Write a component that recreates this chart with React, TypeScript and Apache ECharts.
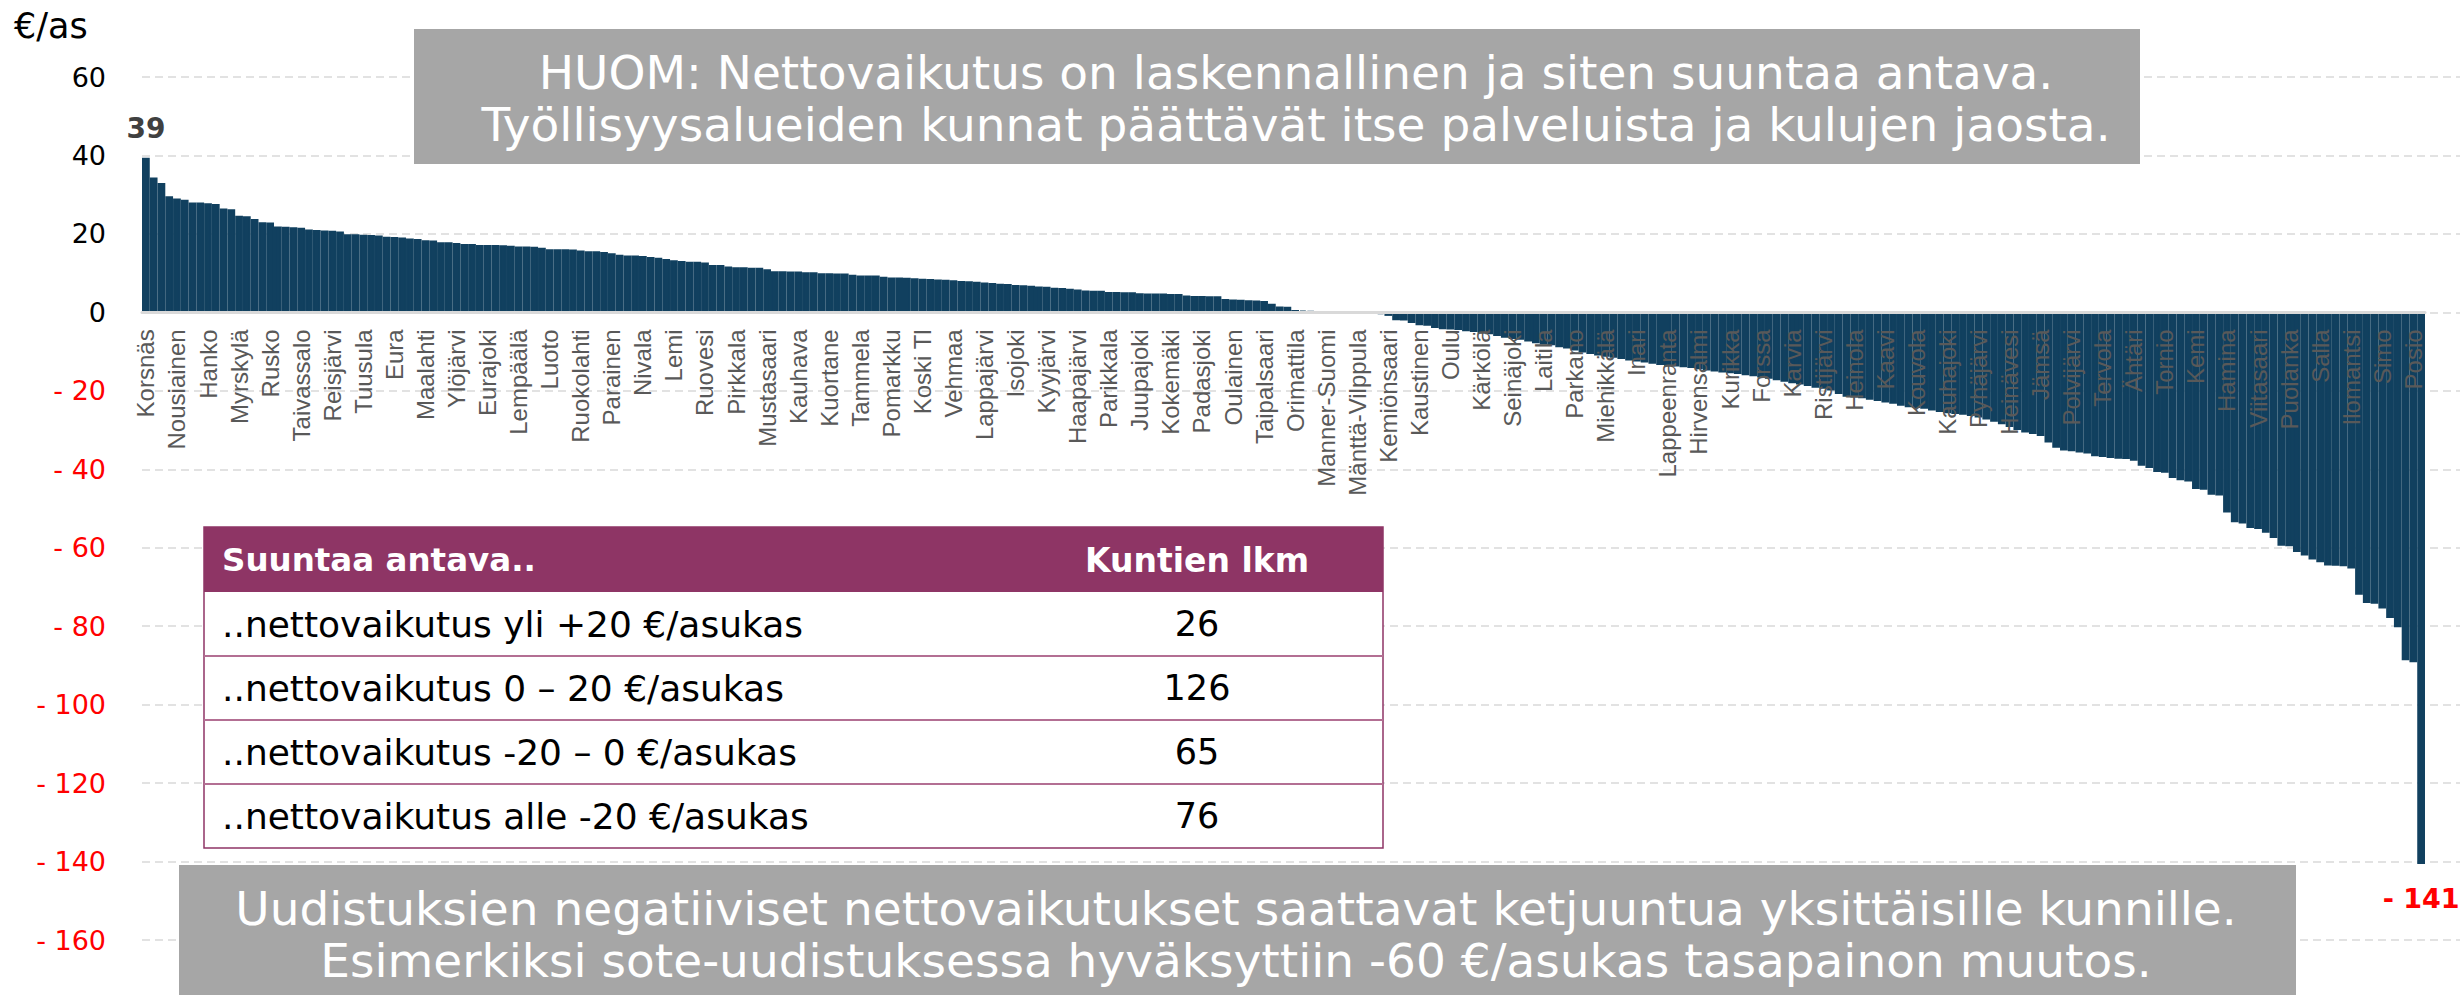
import React, { useEffect, useRef } from "react";
import * as echarts from "echarts";

// Net effect per municipality, €/resident, sorted descending (Manner-Suomi ~0 at index 152)
const values: number[] = [
  39.4, 34.4, 33.0, 29.6, 29.0, 28.7, 28.0, 28.0, 27.8, 27.6,
  26.5, 26.3, 24.6, 24.5, 23.8, 23.0, 22.9, 21.9, 21.8, 21.7,
  21.6, 21.1, 21.0, 20.9, 20.8, 20.6, 19.9, 19.9, 19.8, 19.7,
  19.6, 19.3, 19.2, 19.1, 18.8, 18.7, 18.4, 18.3, 17.9, 17.9,
  17.7, 17.4, 17.4, 17.2, 17.2, 17.2, 17.1, 17.0, 16.8, 16.8,
  16.7, 16.5, 16.1, 16.1, 16.1, 16.0, 15.8, 15.6, 15.6, 15.4,
  15.1, 14.7, 14.5, 14.5, 14.4, 14.1, 13.9, 13.6, 13.3, 13.1,
  12.9, 12.9, 12.7, 12.1, 12.1, 11.7, 11.5, 11.5, 11.4, 11.4,
  11.0, 10.5, 10.5, 10.4, 10.4, 10.2, 10.2, 10.0, 10.0, 9.9,
  9.9, 9.6, 9.4, 9.4, 9.4, 9.1, 8.9, 8.9, 8.8, 8.7,
  8.6, 8.5, 8.4, 8.3, 8.2, 8.0, 7.9, 7.8, 7.6, 7.5,
  7.3, 7.2, 7.0, 6.9, 6.8, 6.6, 6.5, 6.3, 6.2, 6.0,
  5.8, 5.6, 5.5, 5.5, 5.2, 5.2, 5.1, 5.1, 4.9, 4.8,
  4.8, 4.8, 4.7, 4.7, 4.3, 4.2, 4.2, 4.1, 4.1, 3.4,
  3.3, 3.2, 3.1, 3.0, 2.9, 2.2, 1.5, 1.4, 0.6, 0.5,
  0.3, 0.1, 0, -0.1, -0.1, -0.2, -0.2, -0.3, -0.3, -0.5,
  -0.9, -2.0, -2.1, -2.7, -3.3, -3.4, -4.0, -4.3, -4.4, -4.5,
  -4.8, -5.0, -5.4, -5.6, -6.0, -6.5, -6.8, -7.0, -7.4, -7.9,
  -8.2, -8.4, -8.9, -9.2, -9.7, -10.2, -10.6, -11.0, -11.3, -11.6,
  -11.9, -12.3, -12.5, -12.8, -13.1, -13.4, -13.6, -13.8, -14.0, -14.2,
  -14.5, -14.8, -15.1, -15.3, -15.5, -15.7, -16.0, -16.3, -16.6, -16.9,
  -17.3, -17.7, -18.1, -18.4, -18.8, -19.2, -19.5, -19.9, -20.8, -21.5,
  -21.7, -21.9, -22.3, -22.6, -23.0, -23.3, -23.8, -24.2, -24.4, -24.6,
  -25.0, -25.4, -25.7, -25.9, -26.1, -26.4, -26.8, -27.3, -27.9, -28.5,
  -29.2, -30.0, -30.6, -31.0, -31.5, -33.2, -34.5, -35.2, -35.4, -35.7,
  -36.0, -36.7, -36.9, -37.1, -37.3, -37.4, -37.8, -39.1, -39.7, -40.7,
  -40.9, -42.2, -42.8, -43.1, -45.0, -45.2, -46.5, -46.7, -51.0, -53.5,
  -53.8, -55.0, -55.2, -56.2, -57.5, -59.5, -59.6, -61.1, -62.0, -63.0,
  -63.7, -64.5, -64.6, -64.7, -65.3, -72.0, -74.1, -74.3, -75.5, -77.9,
  -80.3, -88.7, -89.2, -140.6,
];

// Names shown on the axis (every 4th municipality)
const labelNames: string[] = [
  "Korsnäs", "Nousiainen", "Hanko", "Myrskylä", "Rusko", "Taivassalo", "Reisjärvi", "Tuusula",
  "Eura", "Maalahti", "Ylöjärvi", "Eurajoki", "Lempäälä", "Luoto", "Ruokolahti", "Parainen",
  "Nivala", "Lemi", "Ruovesi", "Pirkkala", "Mustasaari", "Kauhava", "Kuortane", "Tammela",
  "Pomarkku", "Koski Tl", "Vehmaa", "Lappajärvi", "Isojoki", "Kyyjärvi", "Haapajärvi", "Parikkala",
  "Juupajoki", "Kokemäki", "Padasjoki", "Oulainen", "Taipalsaari", "Orimattila", "Manner-Suomi",
  "Mänttä-Vilppula", "Kemiönsaari", "Kaustinen", "Oulu", "Kärkölä", "Seinäjoki", "Laitila",
  "Parkano", "Miehikkälä", "Inari", "Lappeenranta", "Hirvensalmi", "Kurikka", "Forssa", "Karvia",
  "Ristijärvi", "Heinola", "Kaavi", "Kouvola", "Kauhajoki", "Pyhäjärvi", "Heinävesi", "Jämsä",
  "Polvijärvi", "Tervola", "Ähtäri", "Tornio", "Kemi", "Hamina", "Viitasaari", "Puolanka",
  "Salla", "Ilomantsi", "Simo", "Posio",
];
const labelEvery = 4;

const yMin = -160;
const yMax = 60;
const yStep = 20;
const yUnit = "€/as";

const tableHeader: string[] = ["Suuntaa antava..", "Kuntien lkm"];
const tableRows: string[] = [
  "..nettovaikutus yli +20 €/asukas",
  "..nettovaikutus 0 – 20 €/asukas",
  "..nettovaikutus -20 – 0 €/asukas",
  "..nettovaikutus alle -20 €/asukas",
];
const tableCounts: number[] = [26, 126, 65, 76];

const noteTop: string[] = [
  "HUOM: Nettovaikutus on laskennallinen ja siten suuntaa antava.",
  "Työllisyysalueiden kunnat päättävät itse palveluista ja kulujen jaosta.",
];
const noteBottom: string[] = [
  "Uudistuksien negatiiviset nettovaikutukset saattavat ketjuuntua yksittäisille kunnille.",
  "Esimerkiksi sote-uudistuksessa hyväksyttiin -60 €/asukas tasapainon muutos.",
];

const FONT = "DejaVu Sans";
const BAR = "#11405f";
const PURPLE = "#8e3565";

// layout (pixels)
const GRID_TOP = 77;
const GRID_BOTTOM = 55;
const CHART_H = 995;

function fmtSigned(v: number): string {
  return v < 0 ? "- " + Math.abs(v) : String(v);
}

export default function App() {
  const ref = useRef<HTMLDivElement>(null);

  useEffect(() => {
    if (!ref.current) return;
    const chart = echarts.init(ref.current, undefined, { renderer: "svg" });

    const categories = values.map((_, i) => String(i));
    let maxI = 0;
    let minI = 0;
    values.forEach((v, i) => {
      if (v > values[maxI]) maxI = i;
      if (v < values[minI]) minI = i;
    });

    const data = values.map((v, i) => {
      if (i === maxI) {
        return {
          value: v,
          label: {
            show: true,
            position: "top",
            distance: 15,
            formatter: () => String(Math.round(v)),
            fontFamily: FONT,
            fontWeight: "bold",
            fontSize: 28,
            color: "#404040",
          },
        };
      }
      if (i === minI) {
        return {
          value: v,
          label: {
            show: true,
            position: "bottom",
            distance: 21,
            formatter: () => "- " + Math.round(Math.abs(v)),
            fontFamily: FONT,
            fontWeight: "bold",
            fontSize: 27,
            color: "#ff0000",
          },
        };
      }
      return v;
    });

    // place the category axis at value 0 (offset from the grid's bottom edge)
    const plotH = CHART_H - GRID_TOP - GRID_BOTTOM;
    const zeroOffset = -plotH * ((0 - yMin) / (yMax - yMin));

    const rowTop = 592;
    const rowH = 64;
    const tableX = 204;
    const tableW = 1179;

    const graphic: any[] = [
      {
        type: "text",
        z: 100,
        style: { text: yUnit, x: 14, y: 26, verticalAlign: "middle", fontFamily: FONT, fontSize: 35, fill: "#000" },
      },
      {
        type: "rect",
        z: 100,
        shape: { x: 414, y: 29, width: 1726, height: 135 },
        style: { fill: "#a6a6a6" },
      },
      {
        type: "text",
        z: 101,
        style: {
          text: noteTop.join("\n"),
          x: 1296,
          y: 98,
          align: "center",
          verticalAlign: "middle",
          fontFamily: FONT,
          fontSize: 47,
          lineHeight: 52,
          fill: "#ffffff",
        },
      },
      {
        type: "rect",
        z: 100,
        shape: { x: 179, y: 865, width: 2117, height: 130 },
        style: { fill: "#a6a6a6" },
      },
      {
        type: "text",
        z: 101,
        style: {
          text: noteBottom.join("\n"),
          x: 1236,
          y: 934,
          align: "center",
          verticalAlign: "middle",
          fontFamily: FONT,
          fontSize: 47,
          lineHeight: 52,
          fill: "#ffffff",
        },
      },
      {
        type: "rect",
        z: 100,
        shape: { x: tableX, y: 527, width: tableW, height: rowTop + rowH * 4 - 527 },
        style: { fill: "#ffffff", stroke: PURPLE, lineWidth: 1.5 },
      },
      {
        type: "rect",
        z: 101,
        shape: { x: tableX, y: 527, width: tableW, height: rowTop - 527 },
        style: { fill: PURPLE },
      },
      {
        type: "text",
        z: 102,
        style: {
          text: tableHeader[0], x: 222, y: 560, verticalAlign: "middle",
          fontFamily: FONT, fontWeight: "bold", fontSize: 32.5, fill: "#ffffff",
        },
      },
      {
        type: "text",
        z: 102,
        style: {
          text: tableHeader[1], x: 1197, y: 560, align: "center", verticalAlign: "middle",
          fontFamily: FONT, fontWeight: "bold", fontSize: 33, fill: "#ffffff",
        },
      },
    ];
    tableRows.forEach((t, r) => {
      const cy = rowTop + rowH * r + rowH / 2;
      if (r > 0) {
        graphic.push({
          type: "line",
          z: 101,
          shape: { x1: tableX, y1: rowTop + rowH * r, x2: tableX + tableW, y2: rowTop + rowH * r },
          style: { stroke: "#b36f93", lineWidth: 2 },
        });
      }
      graphic.push({
        type: "text",
        z: 102,
        style: { text: t, x: 222, y: cy, verticalAlign: "middle", fontFamily: FONT, fontSize: 36, fill: "#000" },
      });
      graphic.push({
        type: "text",
        z: 102,
        style: {
          text: String(tableCounts[r]), x: 1197, y: cy, align: "center", verticalAlign: "middle",
          fontFamily: FONT, fontSize: 35, fill: "#000",
        },
      });
    });

    chart.setOption({
      animation: false,
      backgroundColor: "#ffffff",
      grid: [
        { left: 142, right: 39, top: GRID_TOP, bottom: GRID_BOTTOM, containLabel: false, outerBoundsMode: "none" },
        { left: 142, right: 4, top: GRID_TOP, bottom: GRID_BOTTOM, containLabel: false, outerBoundsMode: "none" },
      ],
      xAxis: [
        {
          type: "category",
          gridIndex: 0,
          data: categories,
          position: "bottom",
          offset: zeroOffset,
          z: 10,
          axisLine: { onZero: false, lineStyle: { color: "#d9d9d9", width: 3 } },
          axisTick: { show: false },
          splitLine: { show: false },
          axisLabel: {
            interval: labelEvery - 1,
            rotate: 90,
            margin: 17,
            fontSize: 24,
            fontFamily: "Liberation Sans",
            color: "#595959",
            hideOverlap: false,
            formatter: (_: string, idx: number) =>
              idx % labelEvery === 0 ? labelNames[idx / labelEvery] ?? "" : "",
          },
        },
        { type: "value", gridIndex: 1, show: false, min: 0, max: 1 },
      ],
      yAxis: [
        {
          type: "value",
          gridIndex: 0,
          min: yMin,
          max: yMax,
          interval: yStep,
          axisLine: { show: false },
          axisTick: { show: false },
          splitLine: { show: false },
          axisLabel: {
            margin: 36,
            fontSize: 27,
            fontFamily: FONT,
            formatter: (v: number) => fmtSigned(v),
            color: (v: any) => (parseFloat(v) < 0 ? "#ff0000" : "#000000"),
          },
        },
        {
          type: "value",
          gridIndex: 1,
          min: yMin,
          max: yMax,
          interval: yStep,
          axisLine: { show: false },
          axisTick: { show: false },
          axisLabel: { show: false },
          splitLine: { show: true, lineStyle: { color: "#d9d9d9", width: 1.5, type: [8, 5] } },
        },
      ],
      series: [
        {
          type: "bar",
          xAxisIndex: 0,
          yAxisIndex: 0,
          data,
          barCategoryGap: "0%",
          barGap: "0%",
          itemStyle: { color: BAR, borderColor: BAR, borderWidth: 2 },
          z: 2,
        },
      ],
      graphic,
    });

    return () => chart.dispose();
  }, []);

  return (
    <div
      ref={ref}
      style={{ position: "fixed", left: 0, top: 0, width: 2464, height: 995 }}
    />
  );
}
